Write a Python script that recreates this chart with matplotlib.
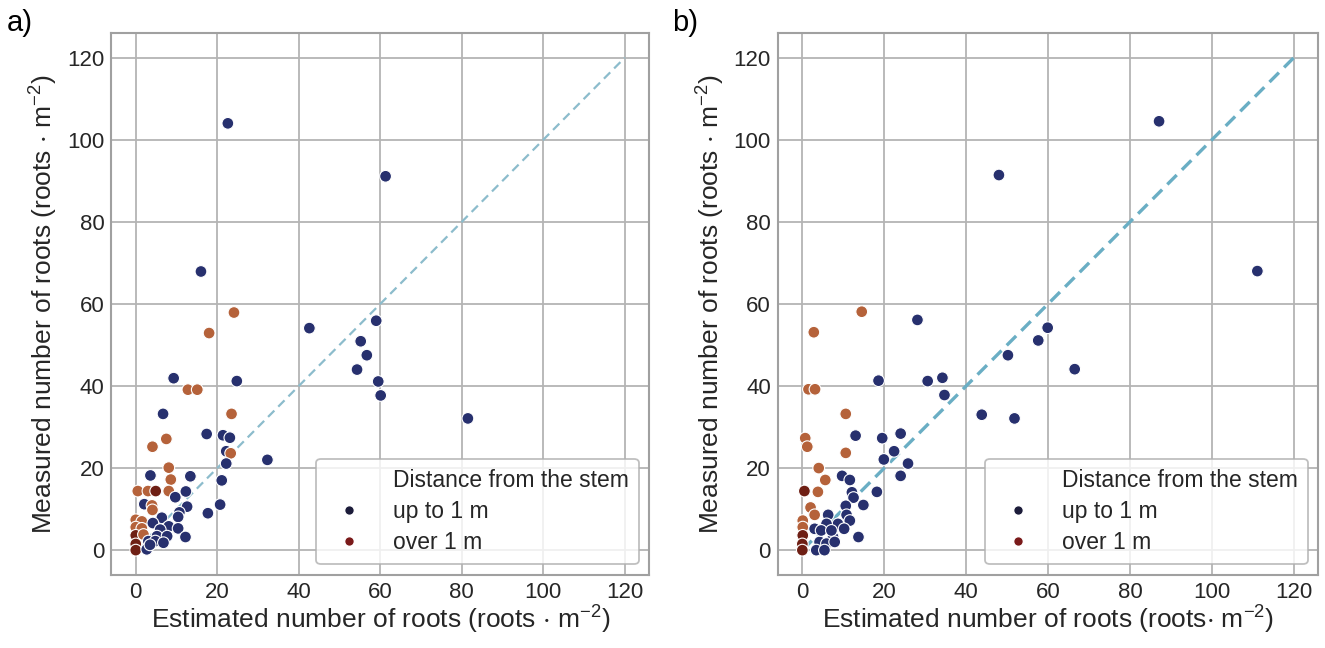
#!/usr/bin/env python3
"""Measured vs estimated number of roots, two panels."""

import matplotlib

matplotlib.use("Agg")
import matplotlib.pyplot as plt
from matplotlib.lines import Line2D

plt.rcParams["font.family"] = ["Liberation Sans", "DejaVu Sans"]
plt.rcParams["mathtext.default"] = "regular"

# group: 0 = up to 1 m, 1 = over 1 m, 2 = over 1 m (darker shade)
A_EST = [22.6, 61.3, 16.0, 24.1, 18.0, 9.3, 24.8, 12.8, 15.1, 6.7, 23.5,
         17.4, 21.4, 23.1, 7.5, 4.1, 22.2, 23.3, 22.2, 32.3, 8.1, 3.6, 8.6,
         13.4, 21.1, 0.5, 3.0, 4.9, 8.1, 12.3, 9.7, 2.1, 4.0, 12.6, 20.7,
         17.7, 4.1, 10.7, 10.4, 0.0, 1.5, 6.4, 4.2, 8.1, 10.4, 12.2, 6.0,
         0.0, 1.5, 0.0, 5.2, 7.7, 1.9, 3.1, 4.8, 6.8, 0.0, 0.0, 2.7, 3.5,
         42.6, 59.0, 55.2, 56.7, 54.3, 59.5, 60.1, 81.5]
A_MEAS = [104.0, 91.1, 67.9, 57.9, 52.9, 41.9, 41.2, 39.1, 39.1, 33.2, 33.2,
          28.3, 28.0, 27.4, 27.1, 25.2, 24.1, 23.6, 21.1, 22.0, 20.1, 18.2, 17.2,
          18.0, 17.0, 14.4, 14.4, 14.4, 14.4, 14.3, 12.9, 11.2, 10.9, 10.6, 11.1,
          9.0, 9.8, 9.2, 8.1, 7.4, 7.0, 7.9, 6.6, 5.8, 5.3, 3.2, 5.0,
          5.6, 5.3, 3.6, 3.4, 3.4, 3.8, 2.2, 2.2, 1.8, 1.5, 0.0, 0.2, 1.3,
          54.1, 55.9, 50.9, 47.5, 44.0, 41.1, 37.7, 32.1]
A_GROUP = [0, 0, 0, 1, 1, 0, 0, 1, 1, 0, 1,
           0, 0, 0, 1, 1, 0, 1, 0, 0, 1, 0, 1,
           0, 0, 1, 1, 2, 1, 0, 0, 0, 1, 0, 0,
           0, 1, 0, 0, 1, 1, 0, 0, 0, 0, 0, 0,
           1, 1, 2, 0, 0, 1, 0, 0, 0, 2, 2, 0, 0,
           0, 0, 0, 0, 0, 0, 0, 0]

B_EST = [87.1, 48.0, 111.1, 14.5, 2.8, 28.1, 18.6, 1.5, 3.1, 30.6, 34.2,
         34.7, 10.6, 59.9, 57.6, 50.2, 66.5, 43.8, 51.8, 25.8, 24.0, 24.0,
         13.0, 19.5, 0.7, 1.2, 10.6, 22.4, 19.9, 4.0, 5.6, 9.7, 11.6, 18.2,
         12.1, 0.5, 3.8, 12.5, 14.9, 2.0, 10.6, 6.3, 10.8, 3.0, 8.7, 11.6,
         10.2, 13.7, 5.9, 7.5, 0.1, 0.1, 0.1, 0.0, 0.0, 4.2, 5.9, 3.4, 5.4,
         3.0, 4.6, 7.1, 7.9]
B_MEAS = [104.5, 91.4, 68.0, 58.1, 53.1, 56.1, 41.3, 39.2, 39.2, 41.2, 42.0,
          37.8, 33.2, 54.2, 51.1, 47.5, 44.1, 33.0, 32.1, 21.1, 28.4, 18.1,
          27.9, 27.3, 27.3, 25.2, 23.7, 24.1, 22.1, 20.0, 17.1, 18.1, 17.1, 14.2,
          14.1, 14.4, 14.2, 12.8, 11.0, 10.4, 10.8, 8.6, 8.6, 8.6, 6.4, 7.2,
          5.2, 3.2, 6.4, 3.2, 7.2, 5.6, 3.6, 1.5, 0.0, 2.0, 1.6, 0.0, 0.0,
          5.2, 4.8, 4.8, 2.0]
B_GROUP = [0, 0, 0, 1, 1, 0, 0, 1, 1, 0, 0,
           0, 1, 0, 0, 0, 0, 0, 0, 0, 0, 0,
           0, 0, 1, 1, 1, 0, 0, 1, 1, 0, 0, 0,
           0, 2, 1, 0, 0, 1, 0, 0, 0, 1, 0, 0,
           0, 0, 0, 0, 1, 1, 2, 2, 2, 0, 0, 0, 0,
           0, 0, 0, 0]

LEGEND_TITLE = "Distance from the stem"
LEGEND_LABELS = ["up to 1 m", "over 1 m"]
X_LABELS = [r"Estimated number of roots (roots $\cdot$ m$^{-2}$)",
            r"Estimated number of roots (roots$\cdot$ m$^{-2}$)"]
Y_LABEL = r"Measured number of roots (roots $\cdot$ m$^{-2}$)"
PANEL_TAGS = ["a)", "b)"]
TICKS = [0, 20, 40, 60, 80, 100, 120]

GROUP_COLORS = {0: "#27306e", 1: "#b5623a", 2: "#6e1f14"}
LEGEND_COLORS = ["#1c1c3a", "#7a1a1a"]
GRID = "#b4b4b4"


def draw_panel(ax, est, meas, group, xlabel, line_style):
    ax.set_facecolor("white")
    ax.grid(True, color=GRID, linewidth=1.3)
    ax.set_axisbelow(True)
    for spine in ax.spines.values():
        spine.set_color("#a0a0a0")
        spine.set_linewidth(1.5)
    ax.plot([0, 120], [0, 120], zorder=2, **line_style)
    colors = [GROUP_COLORS[g] for g in group]
    ax.scatter(est, meas, s=72, c=colors, edgecolors="white", linewidths=0.8,
               zorder=3)
    ax.set_xlim(-6, 126)
    ax.set_ylim(-6, 126)
    ax.set_xticks(TICKS)
    ax.set_yticks(TICKS)
    ax.tick_params(length=0, labelsize=16, pad=5, colors="#262626")
    ax.set_xlabel(xlabel, fontsize=19, color="#262626", labelpad=1)
    ax.set_ylabel(Y_LABEL, fontsize=19, color="#262626", labelpad=5)

    handles = [Line2D([], [], linestyle="none", marker="none")]
    for col in LEGEND_COLORS:
        handles.append(Line2D([], [], linestyle="none", marker="o",
                              markersize=7, markerfacecolor=col,
                              markeredgecolor="white"))
    leg = ax.legend(handles, [LEGEND_TITLE] + LEGEND_LABELS, loc="lower right",
                    fontsize=16.5, frameon=True, borderpad=0.45,
                    labelspacing=0.35, handletextpad=0.9, borderaxespad=0.45,
                    fancybox=True)
    leg.get_frame().set_edgecolor("#b0b0b0")
    leg.get_frame().set_linewidth(1.3)
    for text in leg.get_texts():
        text.set_color("#262626")


def main():
    fig = plt.figure(figsize=(13.25, 6.48), dpi=100)
    ax_a = fig.add_axes([0.084, 0.113, 0.406, 0.836])
    ax_b = fig.add_axes([0.587, 0.113, 0.408, 0.836])

    draw_panel(ax_a, A_EST, A_MEAS, A_GROUP, X_LABELS[0],
               dict(color="#8cbccc", linewidth=1.6, linestyle=(0, (4, 2.5))))
    draw_panel(ax_b, B_EST, B_MEAS, B_GROUP, X_LABELS[1],
               dict(color="#6aaec4", linewidth=2.4, linestyle=(0, (4, 2.2))))

    fig.text(0.005, 0.965, PANEL_TAGS[0], fontsize=21, va="center")
    fig.text(0.507, 0.965, PANEL_TAGS[1], fontsize=21, va="center")
    fig.savefig("out.png", dpi=100, facecolor="white")
    plt.close(fig)


if __name__ == "__main__":
    main()
